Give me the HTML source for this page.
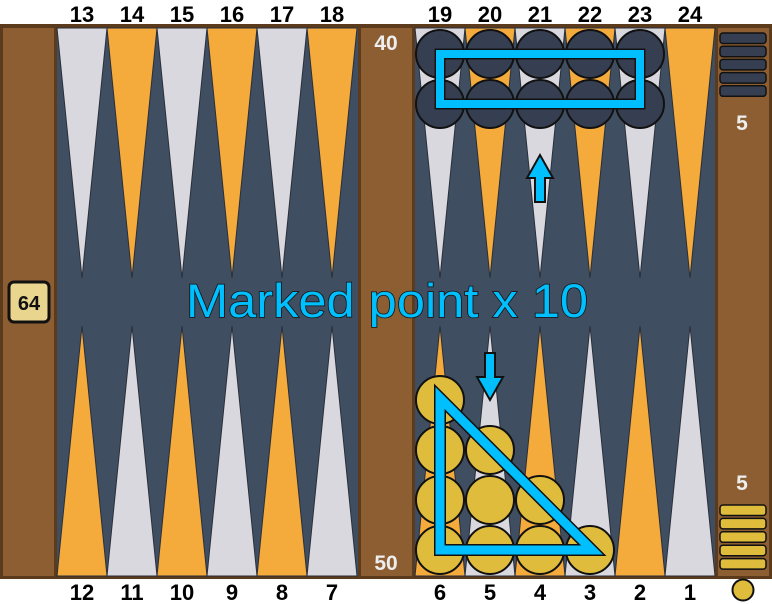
<!DOCTYPE html>
<html><head><meta charset="utf-8"><style>
html,body{margin:0;padding:0;background:#fff;}
svg{display:block;font-family:"Liberation Sans",Arial,sans-serif;}
</style></head><body>
<svg id="board" width="772" height="604" viewBox="0 0 772 604">
<rect x="0" y="24" width="772" height="555" fill="#5c3a1c"/>
<rect x="3" y="28" width="51" height="548" fill="#8c5e32"/>
<rect x="57" y="28" width="301" height="548" fill="#404e61"/>
<rect x="361" y="28" width="51" height="548" fill="#8c5e32"/>
<rect x="415" y="28" width="300" height="548" fill="#404e61"/>
<rect x="718" y="28" width="51" height="548" fill="#8c5e32"/>
<g id="points"></g>
<g id="checkers"></g>
<g id="labels"></g>
<text x="386" y="50" text-anchor="middle" font-size="21" font-weight="bold" fill="#eee">40</text>
<text x="386" y="570" text-anchor="middle" font-size="21" font-weight="bold" fill="#eee">50</text>
<rect x="9" y="282" width="40" height="40" rx="5" fill="#ead58f" stroke="#111" stroke-width="3"/>
<text x="29" y="310" text-anchor="middle" font-size="20" font-weight="bold" fill="#111">64</text>
<g id="tray"></g>
<text x="742" y="130" text-anchor="middle" font-size="21" font-weight="bold" fill="#eee">5</text>
<text x="742" y="490" text-anchor="middle" font-size="21" font-weight="bold" fill="#eee">5</text>
<circle cx="743" cy="590" r="10.5" fill="#e0bc3c" stroke="#111" stroke-width="2"/>
<g>
<rect x="440" y="54" width="200" height="50" fill="none" stroke="#111" stroke-width="11"/>
<rect x="440" y="54" width="200" height="50" fill="none" stroke="#00bfff" stroke-width="8"/>
</g>
<g>
<polygon points="440,398 440,550 592,550" fill="none" stroke="#111" stroke-width="12" stroke-linejoin="miter"/>
<polygon points="440,398 440,550 592,550" fill="none" stroke="#00bfff" stroke-width="9" stroke-linejoin="miter"/>
</g>
<polygon points="535,202 545,202 545,178 553,178 540,155 527,178 535,178" fill="#00bfff" stroke="#111" stroke-width="2"/>
<polygon points="485,353 495,353 495,377 503,377 490,400 477,377 485,377" fill="#00bfff" stroke="#111" stroke-width="2"/>
<text x="387" y="317" text-anchor="middle" font-size="47" textLength="402" lengthAdjust="spacingAndGlyphs" fill="#00bfff" stroke="#111" stroke-width="1.5" paint-order="stroke">Marked point x 10</text>
</svg>
<script>
const topPoints=[13,14,15,16,17,18,19,20,21,22,23,24];
const bottomPoints=[12,11,10,9,8,7,6,5,4,3,2,1];
const topCounts=[0,0,0,0,0,0,2,2,2,2,2,0];
const bottomCounts=[0,0,0,0,0,0,4,3,2,1,0,0];
const darkOff=5, yellowOff=5;
const NS='http://www.w3.org/2000/svg';
function colX(i){return i<6?82+i*50:440+(i-6)*50;}
function mk(tag,attrs,parent){const e=document.createElementNS(NS,tag);for(const k in attrs)e.setAttribute(k,attrs[k]);parent.appendChild(e);return e;}
const P=document.getElementById('points'),C=document.getElementById('checkers'),L=document.getElementById('labels'),T=document.getElementById('tray');
for(let i=0;i<12;i++){
 const x=colX(i);
 const tc=(i%2===0)?'#d9d8de':'#f4ab3c';
 const bc=(i%2===0)?'#f4ab3c':'#d9d8de';
 const t=mk('polygon',{points:`${x-25},28 ${x+25},28 ${x},278`,fill:tc,stroke:'#2a2f3a','stroke-width':1},P);
 
 
 const b=mk('polygon',{points:`${x-25},576 ${x+25},576 ${x},326`,fill:bc,stroke:'#2a2f3a','stroke-width':1},P);
 
 
 const lt=mk('text',{x:x,y:22,'text-anchor':'middle','font-size':22,'font-weight':'bold',fill:'#000'},L);
 lt.textContent=topPoints[i];
 
 
 const lb=mk('text',{x:x,y:600,'text-anchor':'middle','font-size':22,'font-weight':'bold',fill:'#000'},L);
 lb.textContent=bottomPoints[i];
 
 
 for(let k=0;k<topCounts[i];k++){
  const c=mk('circle',{cx:x,cy:54+k*50,r:24,fill:'#363f52',stroke:'#111','stroke-width':2},C);
  
  
 }
 for(let k=0;k<bottomCounts[i];k++){
  const c=mk('circle',{cx:x,cy:550-k*50,r:24,fill:'#e0bc3c',stroke:'#111','stroke-width':2},C);
  
  
 }
}
for(let k=0;k<darkOff;k++){
 const r=mk('rect',{x:720,y:33+k*13.2,width:46,height:10.5,rx:3,fill:'#363f52',stroke:'#111','stroke-width':1.5},T);
 
 
}
for(let k=0;k<yellowOff;k++){
 const r=mk('rect',{x:720,y:505+k*13.4,width:46,height:10.5,rx:3,fill:'#e0bc3c',stroke:'#111','stroke-width':1.5},T);
 
 
}
</script>
</body></html>
